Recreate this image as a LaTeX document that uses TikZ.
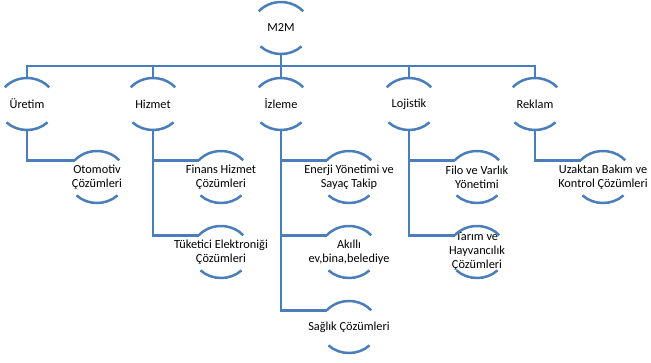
\documentclass[tikz,border=0pt]{standalone}
\usepackage{fontspec}
\setmainfont{Carlito}
\usetikzlibrary{calc}
\definecolor{arcblue}{RGB}{74,126,187}
\tikzset{
  lbl/.style={align=center,font=\fontsize{12.3}{14}\selectfont,text=black,inner sep=0pt},
  arcline/.style={draw=arcblue,line width=2.5pt},
  conn/.style={draw=arcblue,line width=2.5pt},
}
\newcommand{\arcnode}[4]{%
  \node[lbl] (#1) at (#2,-#3) {#4};
  \coordinate (#1-l) at ($(#1.center)+(140:29pt and 26pt)$);
  \coordinate (#1-bl) at ($(#1.center)+(225:29pt and 26pt)$);
  \coordinate (#1-t) at ($(#1.center)+(0,26pt)$);
  \coordinate (#1-b) at ($(#1.center)+(0,-26pt)$);
  \draw[arcline] (#1-l) arc[start angle=140,end angle=40,x radius=29pt,y radius=26pt];
  \draw[arcline] (#1-bl) arc[start angle=225,end angle=315,x radius=29pt,y radius=26pt];
}
\begin{document}
\begin{tikzpicture}[x=1pt,y=1pt]
\useasboundingbox (0,0) rectangle (651,-362);
\arcnode{m2m}{281}{28}{M2M}
\arcnode{uretim}{27}{104}{Üretim}
\arcnode{hizmet}{153}{104}{Hizmet}
\arcnode{izleme}{281}{104}{İzleme}
\arcnode{lojistik}{409}{104}{Lojistik}
\arcnode{reklam}{535}{104}{Reklam}
\arcnode{otomotiv}{97}{177}{Otomotiv\\Çözümleri}
\arcnode{finans}{221}{177}{Finans Hizmet\\Çözümleri}
\arcnode{tuketici}{221}{252}{Tüketici Elektroniği\\Çözümleri}
\arcnode{enerji}{349}{177}{Enerji Yönetimi ve\\Sayaç Takip}
\arcnode{akilli}{349}{252}{Akıllı\\ev,bina,belediye}
\arcnode{saglik}{349}{327}{Sağlık Çözümleri}
\arcnode{filo}{477}{177}{Filo ve Varlık\\Yönetimi}
\arcnode{tarim}{477}{252}{Tarım ve\\Hayvancılık\\Çözümleri}
\arcnode{uzaktan}{603}{177}{Uzaktan Bakım ve\\Kontrol Çözümleri}
\coordinate (bus) at (281,-66);
\draw[conn] (m2m-b) -- (bus);
\foreach \n in {uretim,hizmet,izleme,lojistik,reklam}{
  \draw[conn] (bus) -| (\n-t);
}
\draw[conn] (uretim-b) |- (otomotiv-l);
\draw[conn] (hizmet-b) |- (finans-l);
\draw[conn] (hizmet-b) |- (tuketici-l);
\draw[conn] (izleme-b) |- (enerji-l);
\draw[conn] (izleme-b) |- (akilli-l);
\draw[conn] (izleme-b) |- (saglik-l);
\draw[conn] (lojistik-b) |- (filo-l);
\draw[conn] (lojistik-b) |- (tarim-l);
\draw[conn] (reklam-b) |- (uzaktan-l);
\end{tikzpicture}
\end{document}
